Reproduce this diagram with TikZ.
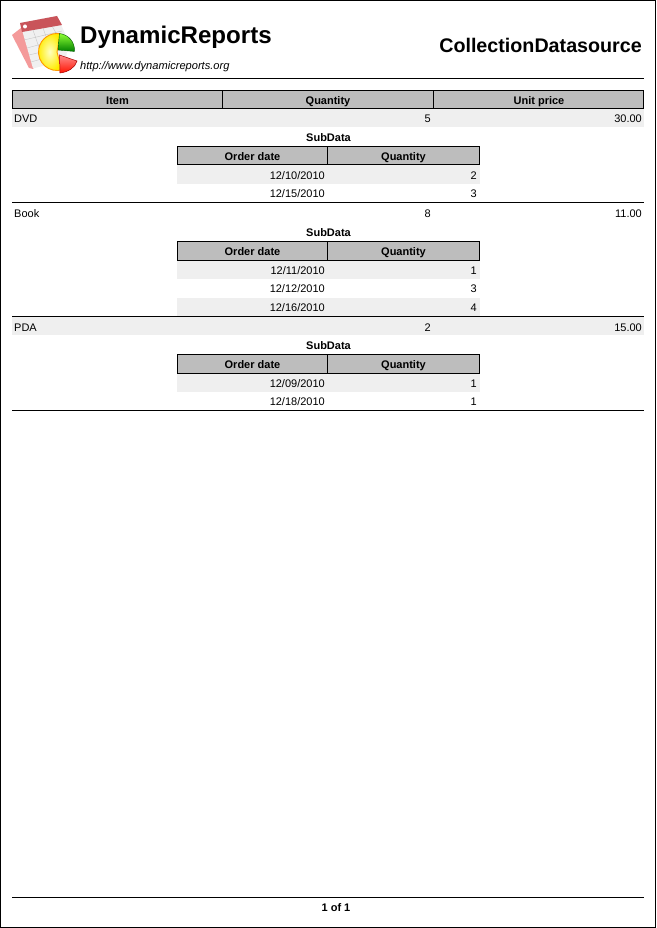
\documentclass[tikz,border=0pt]{standalone}
\usepackage{fontspec}
\setmainfont{Liberation Sans}
\definecolor{hdr}{HTML}{BDBDBD}
\definecolor{alt}{HTML}{EFEFEF}
\definecolor{sheetred}{HTML}{C9545A}
\definecolor{backpink}{HTML}{F49A9A}
\tikzset{
 x=1pt,y=-1pt,
 cell/.style={inner sep=0pt,font=\fontsize{11}{13}\selectfont,text=black,anchor=base},
 lft/.style={cell,anchor=base west},
 rgt/.style={cell,anchor=base east},
 head/.style={cell,font=\fontsize{11}{13}\selectfont\bfseries},
 hfill/.style={fill=hdr,draw=black,line width=1pt},
 rule/.style={draw=black,line width=1pt},
}
\newcommand{\subtable}[6]{% header y; rows; first-header text nudge
 \node[head] at (328.5,#1-5.5+#6) {SubData};
 \path[hfill] (177.5,#1) rectangle (479.5,#1+18.5);
 \draw[rule] (327.5,#1) -- (327.5,#1+18.5);
 \node[head] at (252.5,#1+13.5+#6) {Order date};
 \node[head] at (403.5,#1+13.5+#6) {Quantity};
 \fill[alt] (177,#1+19) rectangle (480,#1+37.5);
 \node[rgt] at (325,#1+32.5) {#2};
 \node[rgt] at (477,#1+32.5) {#3};
 \node[rgt] at (325,#1+50.5) {#4};
 \node[rgt] at (477,#1+50.5) {#5};
}
\begin{document}
\begin{tikzpicture}
\useasboundingbox (0,0) rectangle (656,928);
\fill[white] (0,0) rectangle (656,928);
\draw[black,line width=1pt] (0.5,0.5) rectangle (655.5,927.5);
% logo
\fill[backpink] (12,35) -- (21,28) -- (40,60) -- (33,69) -- (29,68) -- cycle;
\fill[black!6] (20,23) -- (57,16) -- (68,40) -- (66,60) -- (33,68.5) -- cycle;
\draw[black!22,line width=.4pt] (24,40) -- (62,31) (27,48) -- (64,38) (29,55) -- (50,50) (31,62) -- (45,58)
  (33,30) -- (45,65) (43,28) -- (49,45) (52,26) -- (56,33);
\fill[sheetred] (20,23) -- (57,16) -- (62,25) -- (22,32) -- cycle;
\fill[white] (25,26.5) circle (2);
\path[draw=orange!80!yellow,line width=.9pt,inner color=yellow!25!white,outer color=yellow!85!orange] (57,52) -- +(-80:18.5) arc (-80:-285:18.5) -- cycle;
\path[draw=green!35!black,line width=.4pt,top color=green!55!yellow!80!white,bottom color=green!50!black] (58,50) -- +(-85:16.5) arc (-85:5:16.5) -- cycle;
\path[draw=red!65!black,line width=.5pt,top color=red!45!white,bottom color=red!85!orange] (59.5,55) -- (77,61) .. controls (75,68) and (68,72) .. (60,73) -- cycle;
% titles
\node[inner sep=0pt,anchor=base west,font=\fontsize{24.1}{28}\selectfont\bfseries] (brand) at (80,44) {DynamicReports};
\node[inner sep=0pt,anchor=base west,font=\fontsize{11.1}{13}\selectfont\itshape] (url) at (80,69.5) {http://www.dynamicreports.org};
\node[inner sep=0pt,anchor=base east,font=\fontsize{19.7}{24}\selectfont\bfseries] (title) at (642,53) {CollectionDatasource};
\draw[rule] (12,78.5) -- (644,78.5);
% main header
\path[hfill] (12.5,90.5) rectangle (643.5,108.5);
\draw[rule] (222.5,90.5) -- (222.5,108.5) (433.5,90.5) -- (433.5,108.5);
\node[head] at (117.5,104.7) {Item};
\node[head] at (328,104.7) {Quantity};
\node[head] at (539,104.7) {Unit price};
% rows
\fill[alt] (12,109) rectangle (644,127);
\node[lft] at (14,122.7) {DVD};
\node[rgt] at (431,122.7) {5};
\node[rgt] at (642,122.7) {30.00};
\subtable{146.5}{12/10/2010}{2}{12/15/2010}{3}{0.7}
\draw[rule] (12,202.5) -- (644,202.5);
\node[lft] at (14,217) {Book};
\node[rgt] at (431,217) {8};
\node[rgt] at (642,217) {11.00};
\subtable{241.5}{12/11/2010}{1}{12/12/2010}{3}{0}
\fill[alt] (177,298) rectangle (480,316);
\node[rgt] at (325,311) {12/16/2010};
\node[rgt] at (477,311) {4};
\draw[rule] (12,316.5) -- (644,316.5);
\fill[alt] (12,317) rectangle (644,335);
\node[lft] at (14,331) {PDA};
\node[rgt] at (431,331) {2};
\node[rgt] at (642,331) {15.00};
\subtable{354.5}{12/09/2010}{1}{12/18/2010}{1}{0}
\draw[rule] (12,410.5) -- (644,410.5);
% footer
\draw[rule] (12,897.5) -- (644,897.5);
\node[head] at (336,911) {1 of 1};
\end{tikzpicture}
\end{document}
